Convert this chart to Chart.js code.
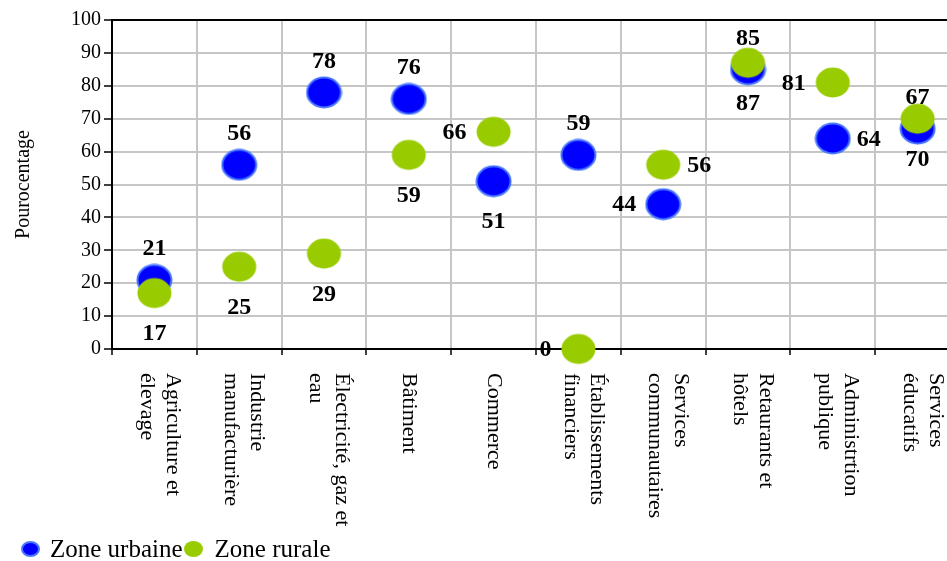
<!DOCTYPE html>
<html lang="fr">
<head>
<meta charset="utf-8">
<title>Zone urbaine / Zone rurale</title>
<script src="https://cdn.jsdelivr.net/npm/chart.js@4.4.1/dist/chart.umd.min.js"></script>
<style>
  html, body { margin: 0; padding: 0; background: #fff; overflow: hidden; }
  #wrap { position: relative; width: 947px; height: 561px; overflow: hidden; }
  #chart { position: absolute; left: 0; top: 0; }
  #legend {
    position: absolute; left: 21px; top: 536px;
    display: flex; align-items: center;
    font: 25px 'Liberation Serif', 'Times New Roman', serif; color: #000;
    line-height: 26px; white-space: nowrap;
  }
  .dot { display: inline-block; width: 19px; height: 16px; border-radius: 50%; box-sizing: border-box; }
  .dot.urban { background: #0000ff; border: 2px solid #4a78ff; margin-right: 10px; }
  .dot.rural { background: #99cc00; margin-left: 1px; margin-right: 12px; }
</style>
</head>
<body>
<div id="wrap">
  <canvas id="chart" width="962" height="561"></canvas>
  <div id="legend">
    <span class="dot urban"></span><span>Zone urbaine</span>
    <span class="dot rural"></span><span>Zone rurale</span>
  </div>
</div>
<script>
// ── Data ──────────────────────────────────────────────────────
const categories = [
  ['Agriculture et', 'élevage'],
  ['Industrie', 'manufacturière'],
  ['Électricité, gaz et', 'eau'],
  ['Bâtiment'],
  ['Commerce'],
  ['Établissements', 'financiers'],
  ['Services', 'communautaires'],
  ['Retaurants et', 'hôtels'],
  ['Administrtion', 'publique'],
  ['Services', 'éducatifs']
];
const urbanValues = [21, 56, 78, 76, 51, 59, 44, 85, 64, 67];
const ruralValues = [17, 25, 29, 59, 66, 0, 56, 87, 81, 70];
const yTicks = [0, 10, 20, 30, 40, 50, 60, 70, 80, 90, 100];

// where each value label sits around its point: t(op) b(ottom) l(eft) r(ight)
const urbanLabelSide = ['t', 't', 't', 't', 'b', 't', 'l', 't', 'r', 't'];
const ruralLabelSide = ['b', 'b', 'b', 'b', 'l', 'l', 'r', 'b', 'l', 'b'];

const SERIF = "'Liberation Serif', 'Times New Roman', serif";

// ── Elliptical marker drawn once, reused as pointStyle ────────
function makeDot(fill, stroke, w, h) {
  const c = document.createElement('canvas');
  c.width = w; c.height = h;
  const g = c.getContext('2d');
  g.beginPath();
  g.ellipse(w / 2, h / 2, w / 2 - 1.5, h / 2 - 1.5, 0, 0, Math.PI * 2);
  g.fillStyle = fill;
  g.fill();
  if (stroke) {
    g.lineWidth = 2;
    g.strokeStyle = stroke;
    g.stroke();
  }
  return c;
}
const blueDot  = makeDot('#0000ff', '#4a78ff', 37, 33);
const greenDot = makeDot('#99cc00', null, 37, 33);

// ── Value labels next to each point ───────────────────────────
const valueLabels = {
  id: 'valueLabels',
  afterDatasetsDraw(chart) {
    const ctx = chart.ctx;
    ctx.save();
    ctx.fillStyle = '#000';
    ctx.font = 'bold 24px ' + SERIF;
    ctx.textBaseline = 'middle';
    chart.data.datasets.forEach(function (ds, di) {
      const meta = chart.getDatasetMeta(di);
      meta.data.forEach(function (pt, i) {
        const side = ds.labelSide[i];
        const text = String(ds.data[i]);
        let x = pt.x, y = pt.y;
        ctx.textAlign = 'center';
        if (side === 't') y -= 32;
        if (side === 'b') y += 40;
        if (side === 'l') { ctx.textAlign = 'right'; x -= 27; }
        if (side === 'r') { ctx.textAlign = 'left';  x += 24; }
        ctx.fillText(text, x, y + 1);
      });
    });
    ctx.restore();
  }
};

// ── Category names, rotated to read downward ──────────────────
const categoryLabels = {
  id: 'categoryLabels',
  afterDraw(chart) {
    const ctx = chart.ctx;
    const xScale = chart.scales.x;
    const top = xScale.top + 24;
    const lh = 26;
    ctx.save();
    ctx.fillStyle = '#000';
    ctx.font = '22px ' + SERIF;
    ctx.textAlign = 'left';
    ctx.textBaseline = 'middle';
    categories.forEach(function (lines, i) {
      const x = xScale.getPixelForValue(i) + (lines.length > 1 ? 5 : 0);
      ctx.save();
      ctx.translate(x, top);
      ctx.rotate(Math.PI / 2);
      lines.forEach(function (line, j) {
        ctx.fillText(line, 0, (j - (lines.length - 1) / 2) * lh);
      });
      ctx.restore();
    });
    ctx.restore();
  }
};

// ── Chart ─────────────────────────────────────────────────────
new Chart(document.getElementById('chart'), {
  type: 'line',
  data: {
    labels: categories.map(function (c) { return c.join(' '); }),
    datasets: [
      {
        label: 'Zone urbaine',
        data: urbanValues,
        labelSide: urbanLabelSide,
        showLine: false,
        pointStyle: blueDot,
        pointRadius: 18,
        pointHoverRadius: 18,
        order: 1,
        clip: false
      },
      {
        label: 'Zone rurale',
        data: ruralValues,
        labelSide: ruralLabelSide,
        showLine: false,
        pointStyle: greenDot,
        pointRadius: 18,
        pointHoverRadius: 18,
        order: 0,
        clip: false
      }
    ]
  },
  options: {
    responsive: false,
    animation: false,
    events: [],
    // plot runs past the right edge of the page, so no auto padding there
    layout: { autoPadding: false, padding: { top: 20, right: 2, left: 0, bottom: 0 } },
    plugins: {
      legend: { display: false },
      tooltip: { enabled: false }
    },
    scales: {
      x: {
        offset: true,
        ticks: { display: false },
        grid: {
          offset: true,
          color: '#c6c6c6',
          lineWidth: 2,
          tickLength: 6,
          tickColor: '#000',
          tickWidth: 1.5
        },
        border: { color: '#000', width: 2 },
        afterFit: function (scale) { scale.height = 212; }
      },
      y: {
        min: 0,
        max: 100,
        afterBuildTicks: function (scale) {
          scale.ticks = yTicks.map(function (v) { return { value: v }; });
        },
        ticks: {
          color: '#000',
          font: { family: SERIF, size: 20 },
          padding: 3
        },
        grid: {
          color: function (c) { return c.tick && c.tick.value === 100 ? '#000' : '#c6c6c6'; },
          lineWidth: 2,
          tickLength: 8,
          tickColor: '#000',
          tickWidth: 1.5
        },
        border: { color: '#000', width: 2 },
        title: {
          display: true,
          text: 'Pourocentage',
          color: '#000',
          font: { family: SERIF, size: 20 },
          padding: { top: 12, bottom: 0 }
        },
        afterFit: function (scale) { scale.width = 112; }
      }
    }
  },
  plugins: [valueLabels, categoryLabels]
});
</script>
</body>
</html>
